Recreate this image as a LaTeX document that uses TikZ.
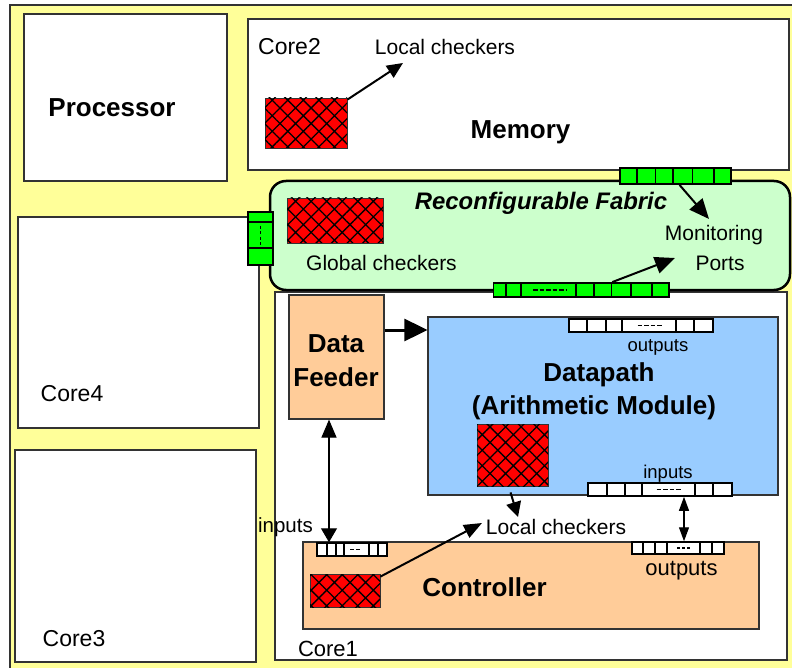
\documentclass[tikz,border=0pt]{standalone}
\usepackage{fontspec}
\setmainfont{Liberation Sans}
\usetikzlibrary{arrows.meta,patterns.meta,fit}

\definecolor{chipyellow}{HTML}{FFFF99}
\definecolor{fabricgreen}{HTML}{CCFFCC}
\definecolor{portgreen}{HTML}{00FF00}
\definecolor{peach}{HTML}{FFCC99}
\definecolor{pathblue}{HTML}{99CCFF}
\definecolor{edgegrey}{HTML}{333333}

\tikzset{
  block/.style={draw=edgegrey, line width=1.2pt, fill=white, inner sep=0pt},
  unit/.style={draw=edgegrey, line width=1.2pt, inner sep=0pt},
  checker/.style={draw=black!80, line width=0.8pt, fill=red, inner sep=0pt,
    postaction={pattern={Hatch[angle=45,distance=11pt,line width=1.3pt]}, pattern color=black}},
  port/.style={draw=black, line width=1.8pt, inner sep=0pt},
  cell/.style={draw=black, line width=1.8pt},
  dots/.style={draw=black, line width=1.8pt, dash pattern=on 4.5pt off 2pt},
  txt/.style={inner sep=0pt, anchor=base, font=\fontsize{21}{25}\selectfont},
  small/.style={txt, font=\fontsize{18.5}{22}\selectfont},
  corelbl/.style={txt, font=\fontsize{23}{27}\selectfont},
  title/.style={txt, font=\bfseries\fontsize{26}{30}\selectfont},
  arr/.style={line width=2pt, -{Triangle[length=16pt,width=14pt]}},
  biarr/.style={line width=1.2pt, {Triangle[length=14pt,width=10pt]}-{Triangle[length=14pt,width=10pt]}},
}

\begin{document}
\begin{tikzpicture}[x=1pt,y=-1pt]
\useasboundingbox (0,0) rectangle (792,668);
\fill[white] (0,0) rectangle (792,668);

% chip outline
\draw[draw=edgegrey, line width=1.2pt, fill=chipyellow] (10,5) rectangle (820,690);

% cores and memory
\node[block, fit={(24,14)(227,181)}] (proc) {};
\node[title] at (112,117) {Processor};

\node[block, fit={(248,19)(789,170)}] (mem) {};
\node[corelbl] at (289.5,55) {Core2};
\node[title] at (520.5,139) {Memory};
\node[checker, fit={(265,98)(347,148)}] (chk2) {};
\node[txt] (lc1) at (445,55) {Local checkers};
\coordinate (lc1tip) at (403,63);
\draw[arr] (chk2.north east) ++(0,2) -- (lc1tip);

\node[block, fit={(18,217)(259,428)}] (core4) {};
\node[corelbl] at (72,401) {Core4};

\node[block, fit={(15,450)(256,662)}] (core3) {};
\node[corelbl] at (74,646) {Core3};

\node[block, fit={(275,292)(787,660)}] (core1) {};
\node[corelbl, font=\fontsize{22}{26}\selectfont] at (328,656) {Core1};

% reconfigurable fabric
\node[draw=black, line width=2.5pt, fill=fabricgreen, rounded corners=16pt, inner sep=0pt,
      fit={(270,181)(790,290)}] (fab) {};
\node[txt, font=\bfseries\itshape\fontsize{23.9}{28}\selectfont] at (541,210) {Reconfigurable Fabric};
\node[checker, fit={(287,198)(383,243)}] (gchk) {};
\node[txt] at (381.5,270) {Global checkers};
\node[txt] (mon) at (714,241) {Monitoring};
\node[txt] (ports) at (720,270) {Ports};

% monitoring ports on the fabric
\node[port, fill=portgreen, fit={(620,168)(731,184)}] (topport) {};
\foreach \x in {637,655.5,673,692.5,713.6} \draw[cell] (\x,168) -- (\x,184);

\node[port, fill=portgreen, fit={(493.5,283)(669,297)}] (botport) {};
\foreach \x in {506,520.6,576,594,611.5,631,652} \draw[cell] (\x,283) -- (\x,297);
\draw[dots] (533,290) -- (567,290);

\node[port, fill=portgreen, fit={(248,212)(273,265)}] (leftport) {};
\foreach \y in {222,248} \draw[cell] (248,\y) -- (273,\y);
\draw[dots, dash pattern=on 3pt off 2.5pt] (260.5,226) -- (260.5,246);

\coordinate (montip) at (709,219);
\coordinate (porttip) at (675,258);
\draw[arr, -{Triangle[length=20pt,width=17pt]}] (topport.south) ++(4,0) -- (montip);
\draw[arr, -{Triangle[length=20pt,width=17pt]}] (botport.north) ++(31,0) -- (porttip);

% data feeder
\node[unit, fill=peach, fit={(289,295)(384,419)}] (feeder) {};
\node[title] at (336,352) {Data};
\node[title] at (336,386) {Feeder};

% datapath
\node[unit, fill=pathblue, fit={(428,317)(778,495)}] (dp) {};
\node[title] at (599,381) {Datapath};
\node[title] at (594,414) {(Arithmetic Module)};
\node[checker, fit={(477,424)(548,486)}] (dpchk) {};

\node[port, fill=white, line width=1.6pt, fit={(569,319)(713,332)}] (dpout) {};
\foreach \x in {587,606,622,676,694} \draw[cell, line width=1.6pt] (\x,319) -- (\x,332);
\draw[dots] (637.5,325.5) -- (662,325.5);
\node[small] at (658,351) {outputs};

\node[port, fill=white, line width=1.6pt, fit={(588,483)(732,496)}] (dpin) {};
\foreach \x in {607,625,642,695,713} \draw[cell, line width=1.6pt] (\x,483) -- (\x,496);
\draw[dots] (656.5,489.5) -- (681,489.5);
\node[small] at (668,478) {inputs};

\draw[line width=3pt, -{Triangle[length=23pt,width=22pt]}] (feeder.east |- 0,330) -- (dp.west |- 0,330);

% controller
\node[unit, fill=peach, fit={(303,542)(759,629)}] (ctrl) {};
\node[title] at (484.5,596) {Controller};
\node[checker, fit={(310,574)(380,607)}] (cchk) {};

\node[port, fill=white, line width=1.5pt, fit={(317,543)(387,556)}] (cin) {};
\foreach \x in {327,336,344,369,378} \draw[cell, line width=1.5pt] (\x,543) -- (\x,556);
\draw[dots, line width=1.6pt, dash pattern=on 4pt off 2pt] (350,549.5) -- (360,549.5);

\node[port, fill=white, line width=1.5pt, fit={(632,542)(724,554)}] (cout) {};
\foreach \x in {643,655,667,700,712} \draw[cell, line width=1.5pt] (\x,542) -- (\x,554);
\draw[dots, line width=1.6pt, dash pattern=on 3pt off 2pt] (677,548) -- (690,548);
\node[txt, font=\fontsize{22}{26}\selectfont] at (681.5,575) {outputs};

\node[txt] (lc2) at (556,534) {Local checkers};
\node[txt, font=\fontsize{20.5}{24}\selectfont] at (285.5,532) {inputs};

\coordinate (lc2a) at (518,517);
\coordinate (lc2b) at (482,523);
\draw[arr, -{Triangle[length=15pt,width=15pt]}] (dpchk.south) ++(-2,6) -- (lc2a);
\draw[arr, -{Triangle[length=18pt,width=14pt]}] (cchk.north east) ++(0,3) -- (lc2b);

% bidirectional links
\draw[biarr, {Triangle[length=18pt,width=15pt]}-{Triangle[length=14pt,width=16pt]}] (feeder.south -| 329,0) -- (cin.north -| 329,0);
\draw[biarr] (dpin.south -| 684,0) -- (cout.north -| 684,0);

\end{tikzpicture}
\end{document}
